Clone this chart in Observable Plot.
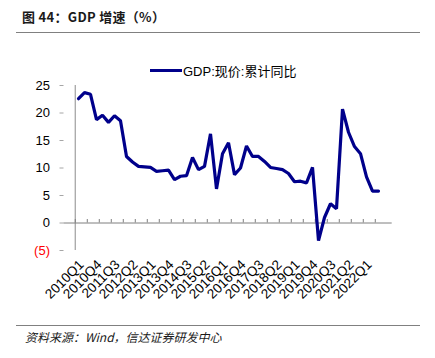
<!DOCTYPE html>
<html><head><meta charset="utf-8">
<script src="https://cdn.jsdelivr.net/npm/d3@7"></script>
<script src="https://cdn.jsdelivr.net/npm/@observablehq/plot@0.6"></script>
<style>
body{margin:0;background:#fff;}
#wrap{position:relative;width:435px;height:358px;overflow:hidden;background:#fff;}
#chart{position:absolute;left:0;top:0;}
#title{position:absolute;left:22px;top:7px;font:bold 13px "Noto Sans CJK SC","Liberation Sans",sans-serif;color:#1a1a1a;letter-spacing:0.3px;white-space:nowrap;}
.rule{position:absolute;left:16px;width:404px;height:0;border-top:1.5px solid #808080;}
#legend{position:absolute;left:150px;top:62px;height:16px;display:flex;align-items:center;white-space:nowrap;}
#legend .sw{width:32px;height:3px;background:#00008b;margin-right:1px;}
#legend .lb{font:13px "Liberation Sans","Noto Sans CJK SC",sans-serif;color:#000;}
#foot{position:absolute;left:25px;top:328px;font:italic 12px "Noto Sans CJK SC","Liberation Sans",sans-serif;color:#1a1a1a;white-space:nowrap;}
</style>
</head><body>
<div id="wrap">
  <div id="title">图 44：GDP 增速（%）</div>
  <div class="rule" style="top:32px"></div>
  <div id="legend"><div class="sw"></div><div class="lb">GDP:现价:累计同比</div></div>
  <div id="chart"></div>
  <div class="rule" style="top:325px"></div>
  <div id="foot">资料来源：Wind，信达证券研发中心</div>
</div>
<script>
const quarters = [
 "2010Q1","2010Q2","2010Q3","2010Q4","2011Q1","2011Q2","2011Q3","2011Q4",
 "2012Q1","2012Q2","2012Q3","2012Q4","2013Q1","2013Q2","2013Q3","2013Q4",
 "2014Q1","2014Q2","2014Q3","2014Q4","2015Q1","2015Q2","2015Q3","2015Q4",
 "2016Q1","2016Q2","2016Q3","2016Q4","2017Q1","2017Q2","2017Q3","2017Q4",
 "2018Q1","2018Q2","2018Q3","2018Q4","2019Q1","2019Q2","2019Q3","2019Q4",
 "2020Q1","2020Q2","2020Q3","2020Q4","2021Q1","2021Q2","2021Q3","2021Q4",
 "2022Q1","2022Q2","2022Q3"
];
const gdpGrowth = [
 22.6, 23.7, 23.4, 18.8, 19.6, 18.3, 19.5, 18.6, 12.1, 11.1,
 10.3, 10.2, 10.1, 9.4, 9.5, 9.6, 7.9, 8.5, 8.6, 11.9,
 9.7, 10.3, 16.2, 6.2, 12.6, 14.6, 8.8, 10.0, 14.0, 12.1,
 12.1, 11.2, 10.1, 9.9, 9.7, 9.0, 7.5, 7.6, 7.3, 10.1,
 -3.2, 1.0, 3.5, 2.6, 20.7, 16.5, 13.9, 12.6, 8.4, 5.8,
 5.8
];
const yTicks = [-5, 0, 5, 10, 15, 20, 25];
const xLabelQuarters = quarters.filter((q, i) => i % 3 === 0);
const xTickQuarters = quarters.filter((q, i) => i % 2 === 0);

const data = quarters.map((q, i) => ({q, v: gdpGrowth[i]}));

const W = 435, H = 358;
const mL = 63.5, mR = 43.3, mT = 85, mB = 108;
const step = (W - mL - mR) / quarters.length;
const fmt = d => d < 0 ? `(${-d})` : `${d}`;

const chart = Plot.plot({
  width: W, height: H,
  marginLeft: mL, marginRight: mR, marginTop: mT, marginBottom: mB,
  style: {fontFamily: "'Liberation Sans', Arial, sans-serif", background: "transparent"},
  x: {type: "point", domain: quarters, padding: 0.5, axis: null, label: null},
  y: {domain: [-5, 25], axis: null, label: null},
  marks: [
    Plot.axisY({ticks: yTicks, tickSize: 4, tickFormat: () => "", label: null, stroke: "#a6a6a6"}),
    Plot.ruleX([quarters[0]], {x: d => d, y1: -5, y2: 25, dx: -step / 2, stroke: "#a6a6a6", strokeWidth: 1.3}),
    Plot.ruleY([0], {stroke: "#7f7f7f", strokeWidth: 1}),
    Plot.ruleX(xTickQuarters, {x: d => d, y1: 0, y2: 0, insetTop: -3.5, dx: -step / 2, stroke: "#7f7f7f"}),
    Plot.text(yTicks, {y: d => d, text: fmt, frameAnchor: "left", dx: -14, textAnchor: "end",
      fill: d => d < 0 ? "#ff0000" : "#000000", fontSize: 13}),
    Plot.text(xLabelQuarters, {x: d => d, text: d => d, frameAnchor: "bottom", dy: 12, dx: 3,
      rotate: -45, textAnchor: "end", lineAnchor: "middle", fill: "#000", fontSize: 13.5}),
    Plot.line(data, {x: "q", y: "v", stroke: "#00008b", strokeWidth: 3.2, strokeLinejoin: "miter"})
  ]
});
document.getElementById("chart").appendChild(chart);
</script>
</body></html>
